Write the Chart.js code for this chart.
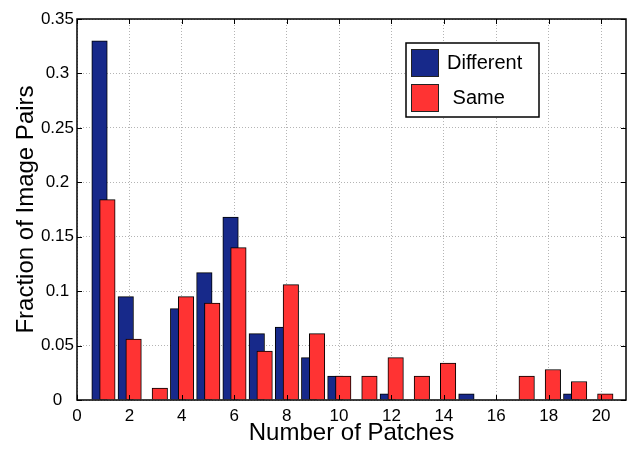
<!DOCTYPE html>
<html>
<head>
<meta charset="utf-8">
<script src="https://cdn.jsdelivr.net/npm/chart.js@4/dist/chart.umd.min.js"></script>
<style>
  html, body { margin: 0; padding: 0; background: #fff; }
  #wrap { width: 636px; height: 451px; }
</style>
</head>
<body>
<div id="wrap"><canvas id="patch-chart"></canvas></div>
<script>
// number of patches (bar categories)
const patches = [1, 2, 3, 4, 5, 6, 7, 8, 9, 10, 11, 12, 13, 14, 15, 16, 17, 18, 19, 20];
// fraction of image pairs
const different = [0.33, 0.095, 0, 0.084, 0.117, 0.168, 0.061, 0.067, 0.039, 0.022,
                   0, 0.0056, 0, 0, 0.0056, 0, 0, 0, 0.0056, 0];
const same = [0.184, 0.056, 0.011, 0.095, 0.089, 0.14, 0.045, 0.106, 0.061, 0.022,
              0.022, 0.039, 0.022, 0.034, 0, 0, 0.022, 0.028, 0.017, 0.0056];
const xTicks = [0, 2, 4, 6, 8, 10, 12, 14, 16, 18, 20];
const yTicks = [0, 0.05, 0.1, 0.15, 0.2, 0.25, 0.3, 0.35];
const yTickLabels = ['0', '0.05', '0.1', '0.15', '0.2', '0.25', '0.3', '0.35'];

const FONT = "'Liberation Sans', Arial, Helvetica, sans-serif";

// the two bars of a category sit slightly apart and overlap
const blueShift = -0.14;
const redShift = 0.16;

// frame, inward tick marks and the boxed legend
const framePlugin = {
  id: 'frame',
  afterDatasetsDraw(chart) {
    const {ctx, chartArea: a, scales} = chart;
    ctx.save();
    ctx.strokeStyle = '#000';
    ctx.lineWidth = 1;
    const tl = 5;
    xTicks.forEach(v => {
      const px = Math.round(scales.x.getPixelForValue(v)) + 0.5;
      ctx.beginPath();
      ctx.moveTo(px, a.bottom); ctx.lineTo(px, a.bottom - tl);
      ctx.moveTo(px, a.top); ctx.lineTo(px, a.top + tl);
      ctx.stroke();
    });
    yTicks.forEach(v => {
      const py = Math.round(scales.y.getPixelForValue(v)) + 0.5;
      ctx.beginPath();
      ctx.moveTo(a.left, py); ctx.lineTo(a.left + tl, py);
      ctx.moveTo(a.right, py); ctx.lineTo(a.right - tl, py);
      ctx.stroke();
    });
    ctx.lineWidth = 1.5;
    ctx.strokeRect(a.left, a.top, a.right - a.left, a.bottom - a.top);

    // legend box
    const lx = a.right - 220, ly = a.top + 24, lw = 133, lh = 74;
    ctx.fillStyle = '#fff';
    ctx.fillRect(lx, ly, lw, lh);
    ctx.lineWidth = 1.5;
    ctx.strokeRect(lx, ly, lw, lh);
    ctx.font = '20px ' + FONT;
    ctx.textBaseline = 'middle';
    ctx.textAlign = 'left';
    chart.data.datasets.forEach((ds, i) => {
      const sy = ly + 6 + i * 35;
      ctx.fillStyle = ds.backgroundColor;
      ctx.fillRect(lx + 5, sy, 28, 28);
      ctx.lineWidth = 1;
      ctx.strokeStyle = '#222';
      ctx.strokeRect(lx + 5.5, sy + 0.5, 27, 27);
      ctx.fillStyle = '#000';
      ctx.fillText(ds.label, lx + 41, sy + 14);
    });
    ctx.restore();
  }
};

const ctx = document.getElementById('patch-chart').getContext('2d');
const chart = new Chart(ctx, {
  type: 'bar',
  data: {
    datasets: [{
      label: 'Different',
      data: patches.map((p, i) => ({x: p + blueShift, y: different[i]})),
      backgroundColor: '#17298a',
      borderColor: '#000',
      borderWidth: 1,
      order: 2
    }, {
      label: ' Same',
      data: patches.map((p, i) => ({x: p + redShift, y: same[i]})),
      backgroundColor: '#ff3333',
      borderColor: '#000',
      borderWidth: 1,
      order: 1
    }]
  },
  options: {
    responsive: true,
    maintainAspectRatio: false,
    animation: false,
    layout: {padding: {top: 19, right: 10, left: 0, bottom: 0}},
    datasets: {bar: {grouped: false, barThickness: 15.5}},
    plugins: {
      legend: {display: false},
      tooltip: {enabled: false}
    },
    scales: {
      x: {
        type: 'linear',
        min: 0,
        max: 20.95,
        offset: false,
        afterBuildTicks: s => { s.ticks = xTicks.map(v => ({value: v})); },
        afterFit: s => { s.height = 51; },
        grid: {color: '#b4b4b4', lineWidth: 1, drawTicks: false, offset: false},
        border: {display: false, dash: [1, 2]},
        ticks: {color: '#000', font: {family: FONT, size: 17}, padding: 6, maxRotation: 0},
        title: {display: true, text: 'Number of Patches', color: '#000',
                font: {family: FONT, size: 24}, padding: {top: 0, bottom: 3}}
      },
      y: {
        min: 0,
        max: 0.35,
        afterBuildTicks: s => { s.ticks = yTicks.map(v => ({value: v})); },
        afterFit: s => { s.width = 77; },
        grid: {color: '#b4b4b4', lineWidth: 1, drawTicks: false},
        border: {display: false, dash: [1, 2]},
        ticks: {color: '#000', font: {family: FONT, size: 17}, padding: 3, crossAlign: 'center',
                callback: (v, i) => yTickLabels[i]},
        title: {display: true, text: 'Fraction of Image Pairs', color: '#000',
                font: {family: FONT, size: 24}, padding: {top: 12, bottom: 0}}
      }
    }
  },
  plugins: [framePlugin]
});
</script>
</body>
</html>
